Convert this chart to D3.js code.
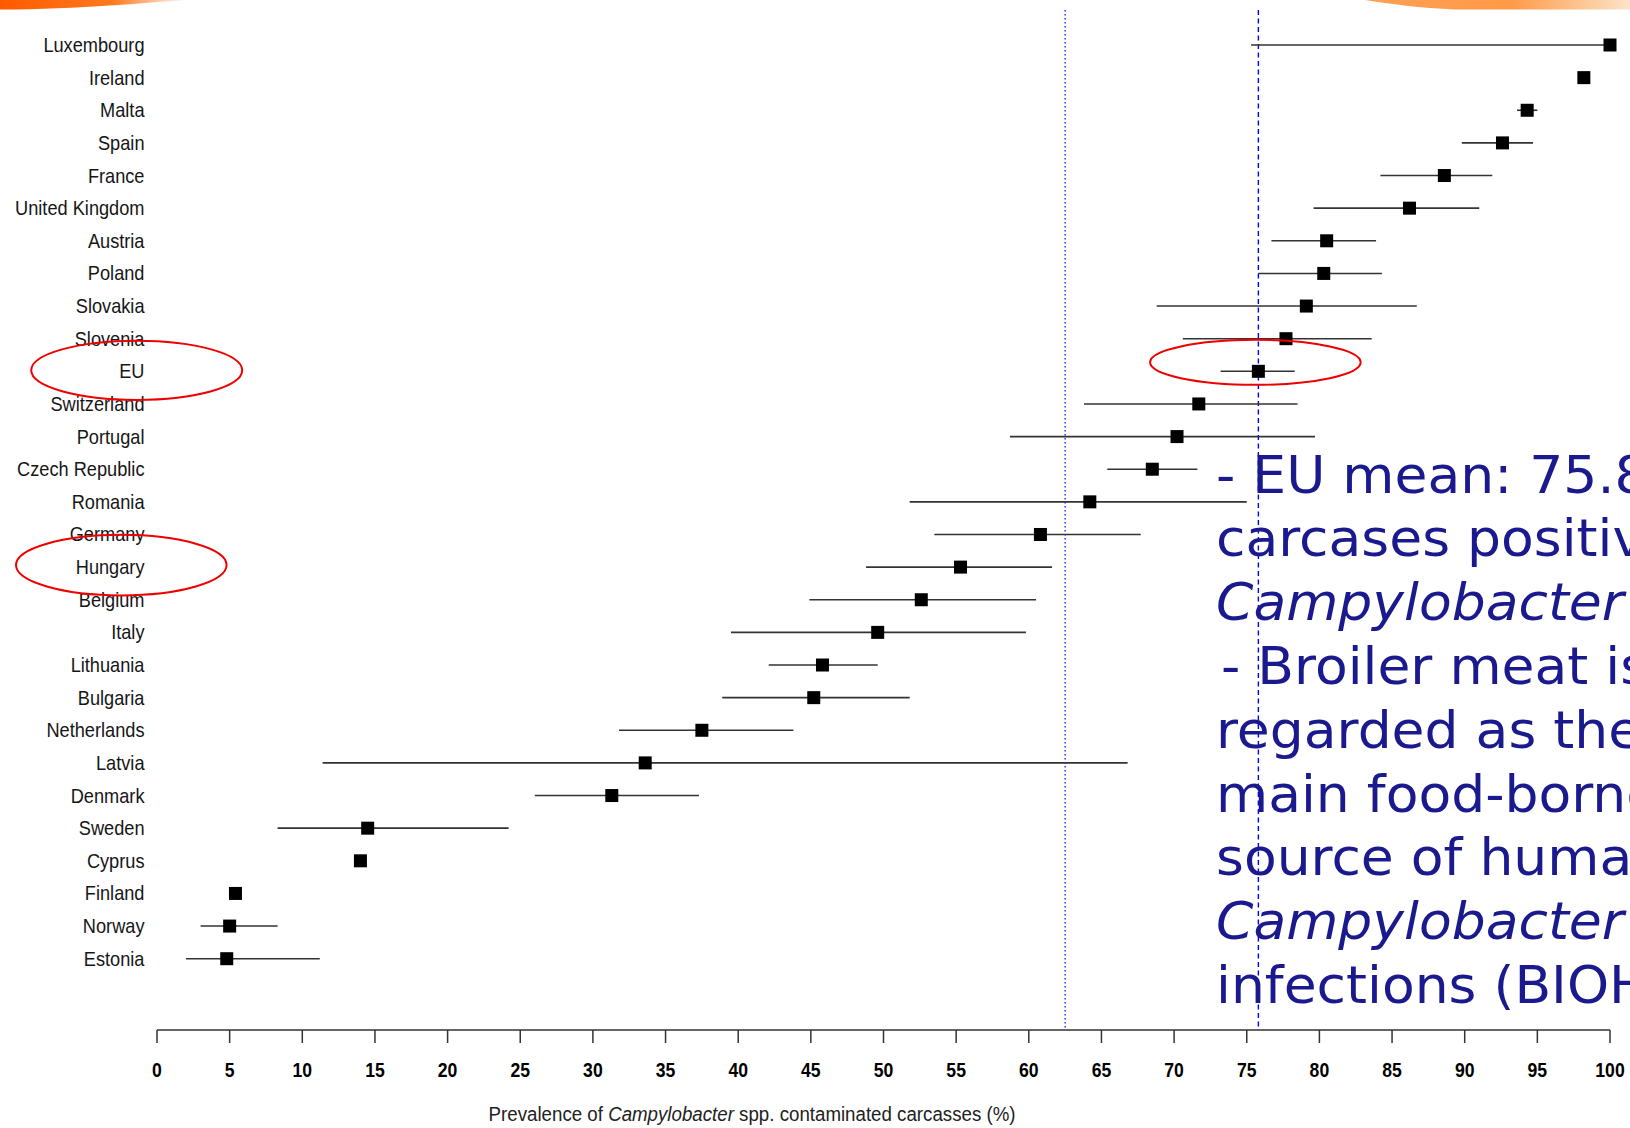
<!DOCTYPE html>
<html><head><meta charset="utf-8">
<script src="https://cdn.jsdelivr.net/npm/d3@7"></script>
<style>
html,body{margin:0;padding:0;background:#fff;overflow:hidden}
svg{display:block}
</style></head><body>
<svg id="chart" width="1630" height="1128"></svg>
<script>
// ---- data ----
const countries = ["Luxembourg","Ireland","Malta","Spain","France","United Kingdom","Austria","Poland","Slovakia","Slovenia","EU","Switzerland","Portugal","Czech Republic","Romania","Germany","Hungary","Belgium","Italy","Lithuania","Bulgaria","Netherlands","Latvia","Denmark","Sweden","Cyprus","Finland","Norway","Estonia"];
const prevalence = [100, 98.2, 94.3, 92.6, 88.6, 86.2, 80.5, 80.3, 79.1, 77.7, 75.8, 71.7, 70.2, 68.5, 64.2, 60.8, 55.3, 52.6, 49.6, 45.8, 45.2, 37.5, 33.6, 31.3, 14.5, 14.0, 5.4, 5.0, 4.8];
const ciLow  = [75.3, null, 93.6, 89.8, 84.2, 79.6, 76.7, 75.8, 68.8, 70.6, 73.2, 63.8, 58.7, 65.4, 51.8, 53.5, 48.8, 44.9, 39.5, 42.1, 38.9, 31.8, 11.4, 26.0, 8.3, null, null, 3.0, 2.0];
const ciHigh = [100, null, 95.0, 94.7, 91.9, 91.0, 83.9, 84.3, 86.7, 83.6, 78.3, 78.5, 79.7, 71.6, 75.0, 67.7, 61.6, 60.5, 59.8, 49.6, 51.8, 43.8, 66.8, 37.3, 24.2, null, null, 8.3, 11.2];
const tickValues = [0,5,10,15,20,25,30,35,40,45,50,55,60,65,70,75,80,85,90,95,100];
const refValues = [62.5, 75.8];
const refStyles = ["dotted", "dashed"];
const titleParts = [["Prevalence of ", false], ["Campylobacter", true], [" spp. contaminated carcasses (%)", false]];
const noteLines = [
  [["- EU mean: 75.8% of", false]],
  [["carcases positive for", false]],
  [["Campylobacter", true]],
  [["- Broiler meat is", false]],
  [["regarded as the", false]],
  [["main food-borne", false]],
  [["source of human", false]],
  [["Campylobacter", true]],
  [["infections (BIOHAZ, 2010)", false]]
];

// ---- drawing ----
const svg = d3.select("#chart");
const W = 1630, H = 1128;
svg.append("rect").attr("width", W).attr("height", H).attr("fill", "#fff");

const defs = svg.append("defs");
const g1 = defs.append("linearGradient").attr("id","swL").attr("x1","0").attr("x2","1").attr("y1","0").attr("y2","0");
g1.append("stop").attr("offset","0").attr("stop-color","#ff5a00");
g1.append("stop").attr("offset","0.6").attr("stop-color","#ff7a20");
g1.append("stop").attr("offset","1").attr("stop-color","#ffffff");
const g2 = defs.append("linearGradient").attr("id","swR").attr("x1","0").attr("x2","1").attr("y1","0").attr("y2","0");
g2.append("stop").attr("offset","0").attr("stop-color","#ffa055");
g2.append("stop").attr("offset","0.55").attr("stop-color","#ff9a48");
g2.append("stop").attr("offset","1").attr("stop-color","#fde3c8");

svg.append("path").attr("d","M0,0 L190,0 C150,2 80,9.5 0,9.5 Z").attr("fill","url(#swL)");
svg.append("path").attr("d","M1365,0 L1630,0 L1630,9.5 L1455,9.5 C1420,8 1390,4 1365,0 Z").attr("fill","url(#swR)");

const x = d3.scaleLinear().domain([0, 100]).range([157, 1610]);
const y = d3.scalePoint().domain(countries).range([45, 958.7]);
const SX = 0.91;

// reference lines
refValues.forEach((v, i) => {
  svg.append("line")
    .attr("x1", x(v)).attr("x2", x(v)).attr("y1", 10).attr("y2", 1030)
    .attr("stroke", "#0000ff").attr("stroke-width", refStyles[i] === "dotted" ? 1.2 : 1.4)
    .attr("stroke-dasharray", refStyles[i] === "dotted" ? "1.5,2.5" : "5,3.5");
});

// CI lines
const rows = countries.map((c, i) => ({c, p: prevalence[i], lo: ciLow[i], hi: ciHigh[i]}));
svg.append("g").selectAll("line").data(rows.filter(d => d.lo != null)).join("line")
  .attr("x1", d => x(d.lo)).attr("x2", d => x(d.hi))
  .attr("y1", d => y(d.c)).attr("y2", d => y(d.c))
  .attr("stroke", "#333").attr("stroke-width", 1.6);

// markers
const S = 13;
svg.append("g").selectAll("rect").data(rows).join("rect")
  .attr("x", d => x(d.p) - S/2).attr("y", d => y(d.c) - S/2)
  .attr("width", S).attr("height", S).attr("fill", "#000");

// country labels
svg.append("g").selectAll("text").data(countries).join("text")
  .attr("transform", d => `translate(144.5,${y(d) + 7}) scale(${SX},1)`)
  .attr("text-anchor", "end")
  .attr("font-family", "'Liberation Sans', Arial, sans-serif")
  .attr("font-size", 20).attr("fill", "#161616")
  .text(d => d);

// x axis
const axisG = svg.append("g");
axisG.append("line").attr("x1", x(0)).attr("x2", x(100)).attr("y1", 1030).attr("y2", 1030)
  .attr("stroke", "#333").attr("stroke-width", 1.5);
axisG.selectAll("line.tick").data(tickValues).join("line").attr("class","tick")
  .attr("x1", d => x(d)).attr("x2", d => x(d)).attr("y1", 1030).attr("y2", 1043)
  .attr("stroke", "#333").attr("stroke-width", 1.5);
axisG.selectAll("text").data(tickValues).join("text")
  .attr("transform", d => `translate(${x(d)},1077) scale(0.88,1)`)
  .attr("text-anchor", "middle")
  .attr("font-family", "'Liberation Sans', Arial, sans-serif")
  .attr("font-size", 20).attr("font-weight", "bold").attr("fill", "#000")
  .text(d => d);

// x title
const title = svg.append("text")
  .attr("font-family", "'Liberation Sans', Arial, sans-serif")
  .attr("font-size", 20).attr("fill", "#222");
titleParts.forEach(([t, it]) => title.append("tspan").attr("font-style", it ? "italic" : "normal").text(t));
const tw = title.node().getComputedTextLength();
title.attr("transform", `translate(488.6,1121) scale(${527 / tw},1)`);

// annotation ellipses
const ell = (cx, cy, rx, ry) => svg.append("ellipse")
  .attr("cx", cx).attr("cy", cy).attr("rx", rx).attr("ry", ry)
  .attr("fill", "none").attr("stroke", "#ee0000").attr("stroke-width", 2);
ell(136.7, y("EU") - 1, 105.5, 29.6);
ell(121.3, y("Hungary") - 2, 105.3, 30.3);
ell(x(prevalence[countries.indexOf("EU")]) - 3, y("EU") - 9, 105.3, 22.5);

// note text (runs past the right edge, as on the original slide)
noteLines.forEach((parts, i) => {
  const t = svg.append("text")
    .attr("transform", `translate(${i === 3 ? 1221 : 1216},${492.5 + i * 63.8}) scale(1.03,1)`)
    .attr("font-family", "'DejaVu Sans', Verdana, sans-serif")
    .attr("font-size", 52).attr("fill", "#1a1a8e");
  parts.forEach(([s, it]) => t.append("tspan").attr("font-style", it ? "italic" : "normal").text(s));
});
</script>
</body></html>
